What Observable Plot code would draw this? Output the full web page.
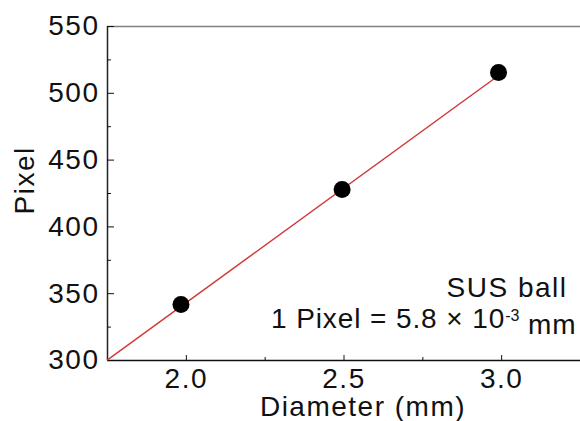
<!DOCTYPE html>
<html><head><meta charset="utf-8">
<script src="https://cdn.jsdelivr.net/npm/d3@7"></script>
<script src="https://cdn.jsdelivr.net/npm/@observablehq/plot@0.6"></script>
<style>body{margin:0;background:#fff} svg{font-family:"Liberation Sans",Arial,sans-serif} svg text{letter-spacing:1.5px} svg .note2 text{letter-spacing:0.9px}</style>
</head><body><div id="chart"></div>
<script>
const diameters = [1.983, 2.494, 2.99];
const pixels = [342, 428, 515.6];
const fitDiameters = [1.75, 3.0];
const fitPixels = [300.5, 515];
const xMajorTicks = [2.0, 2.5, 3.0];
const xMinorTicks = [2.25, 2.75];
const yMajorTicks = [300, 350, 400, 450, 500, 550];
const yMinorTicks = [325, 375, 425, 475, 525];
const xLabel = "Diameter (mm)";
const yLabel = "Pixel";
const note1 = "SUS ball";
const note2 = "1 Pixel = 5.8 × 10^-3 mm";

const points = diameters.map((d, i) => ({d, p: pixels[i]}));
const fit = fitDiameters.map((d, i) => ({d, p: fitPixels[i]}));
const blank = () => "";

const plot = Plot.plot({
  width: 580, height: 421,
  marginLeft: 107, marginRight: 0, marginTop: 26, marginBottom: 61,
  style: {fontFamily: "Liberation Sans, Arial, sans-serif", fontSize: "28px", background: "#fff", color: "#111"},
  x: {domain: [1.75, 3.25]},
  y: {domain: [300, 550]},
  marks: [
    Plot.ruleY([550], {stroke: "#808080", strokeWidth: 1.5}),
    Plot.ruleY([300], {stroke: "#111", strokeWidth: 1.5}),
    Plot.ruleX([1.75], {stroke: "#222", strokeWidth: 1.5}),
    // y tick labels
    Plot.axisY({ticks: yMajorTicks, tickSize: 0, tickPadding: 8, tickFormat: d3.format("d"), label: null, fontSize: 28}),
    // inward y ticks
    Plot.axisY({ticks: yMajorTicks, tickSize: 7, dx: 7, tickFormat: blank, label: null}),
    Plot.axisY({ticks: yMinorTicks, tickSize: 4, dx: 4, tickFormat: blank, label: null}),
    // x tick labels
    Plot.axisX({ticks: xMajorTicks, tickSize: 0, tickPadding: 8, tickFormat: d3.format(".1f"), label: null, fontSize: 28}),
    // inward x ticks
    Plot.axisX({ticks: xMajorTicks, tickSize: 5, dy: -5, tickFormat: blank, label: null}),
    Plot.axisX({ticks: xMinorTicks, tickSize: 3, dy: -3, tickFormat: blank, label: null}),
    Plot.line(fit, {x: "d", y: "p", stroke: "#d23a3a", strokeWidth: 1.5}),
    Plot.dot(points, {x: "d", y: "p", r: 8.5, fill: "#000", stroke: "none"}),
    Plot.text([xLabel], {frameAnchor: "bottom", dx: 19, dy: 47, lineAnchor: "middle", fontSize: 28, fill: "#111"}),
    Plot.text([yLabel], {frameAnchor: "left", dx: -82, dy: 21, rotate: -90, lineAnchor: "middle", fontSize: 28, fill: "#111"}),
    Plot.text([note1], {frameAnchor: "bottom-right", dx: -13, dy: -72, textAnchor: "end", lineAnchor: "middle", fontSize: 28, fill: "#111"}),
    Plot.text([note2], {frameAnchor: "bottom-right", dx: -4, dy: -41, textAnchor: "end", lineAnchor: "middle", fontSize: 28, fill: "#111", className: "note2"})
  ]
});
document.getElementById("chart").append(plot);

// superscript formatting for the exponent
d3.select(plot).selectAll("text").each(function() {
  const t = d3.select(this);
  const txt = t.text();
  if (txt.includes("^")) {
    const [pre, rest] = txt.split("^");
    const exp = rest.split(" ")[0];
    const post = rest.slice(exp.length);
    t.text(null);
    t.append("tspan").text(pre);
    t.append("tspan").attr("dy", "-0.45em").attr("font-size", 16).style("letter-spacing", "0px").text(exp);
    t.append("tspan").attr("dy", "0.45em").text(post);
  }
});
</script></body></html>
